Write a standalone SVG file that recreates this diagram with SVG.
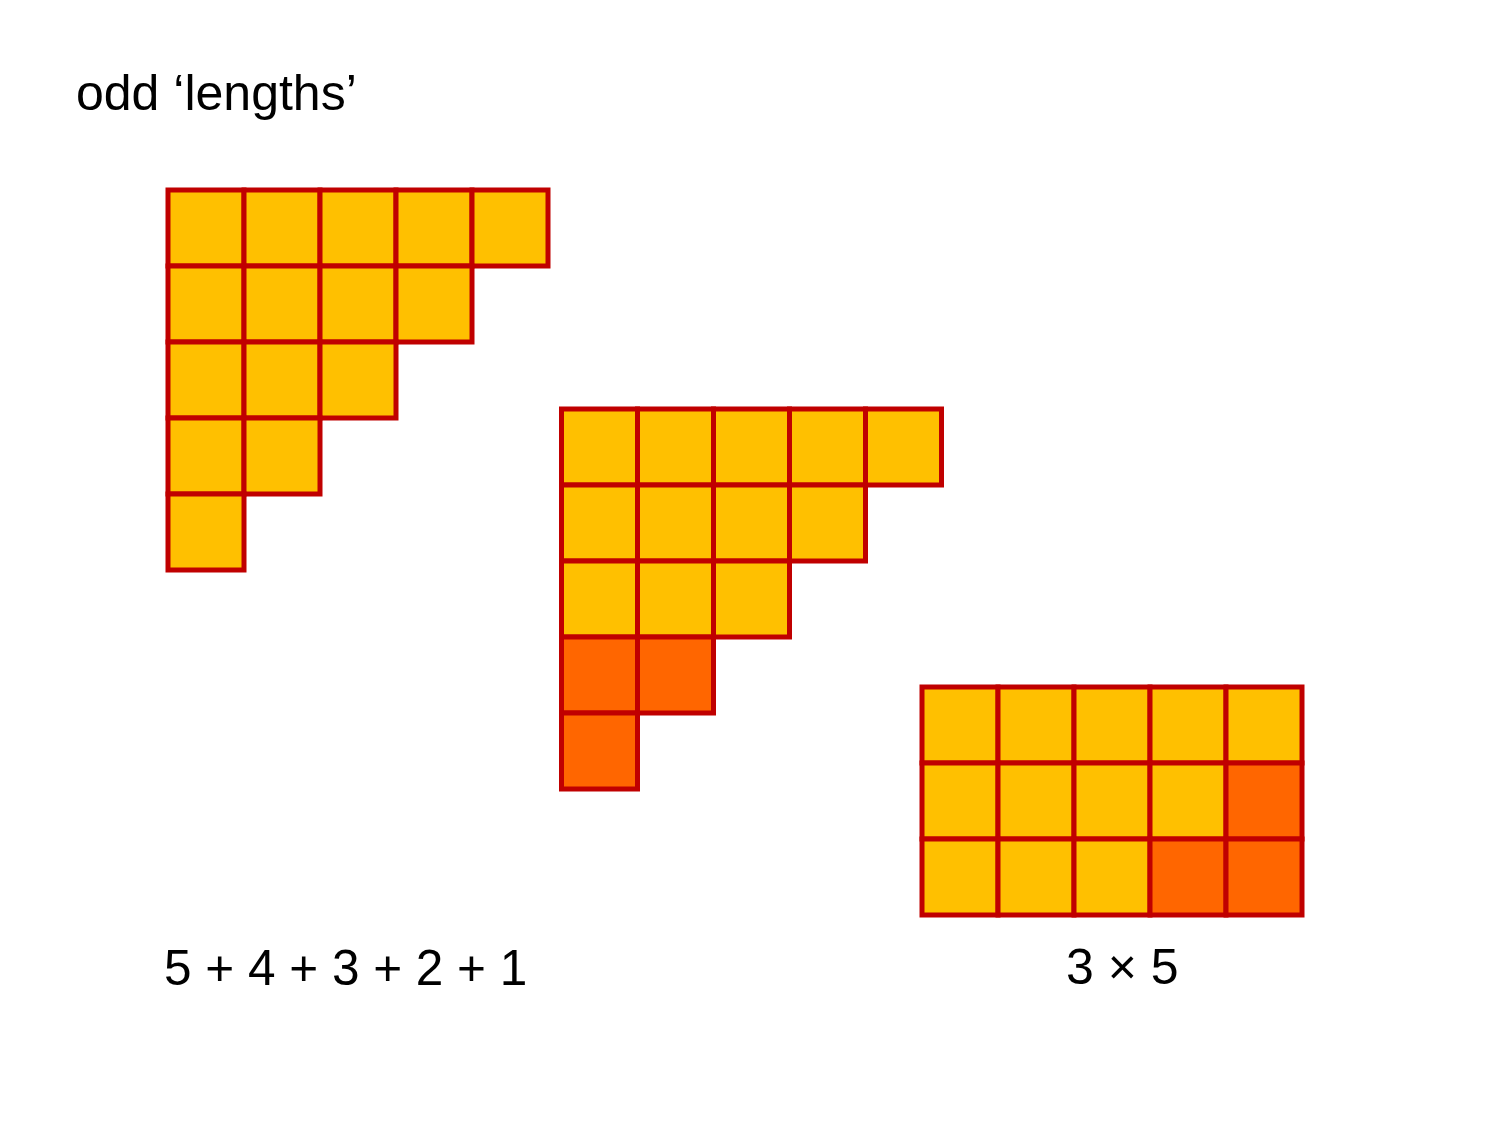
<svg xmlns="http://www.w3.org/2000/svg" width="1500" height="1125" viewBox="0 0 1500 1125">
<style>
.y{fill:#FFC000;stroke:#C00000;stroke-width:5}
.o{fill:#FF6600;stroke:#C00000;stroke-width:5}
.t{font-family:"Liberation Sans",Arial,sans-serif;fill:#000}
</style>
<rect width="1500" height="1125" fill="#fff"/>
<text class="t" x="76" y="110" font-size="50">odd ‘lengths’</text>
<g id="staircase1">
<rect class="y" x="168" y="190" width="76" height="76"/>
<rect class="y" x="244" y="190" width="76" height="76"/>
<rect class="y" x="320" y="190" width="76" height="76"/>
<rect class="y" x="396" y="190" width="76" height="76"/>
<rect class="y" x="472" y="190" width="76" height="76"/>
<rect class="y" x="168" y="266" width="76" height="76"/>
<rect class="y" x="244" y="266" width="76" height="76"/>
<rect class="y" x="320" y="266" width="76" height="76"/>
<rect class="y" x="396" y="266" width="76" height="76"/>
<rect class="y" x="168" y="342" width="76" height="76"/>
<rect class="y" x="244" y="342" width="76" height="76"/>
<rect class="y" x="320" y="342" width="76" height="76"/>
<rect class="y" x="168" y="418" width="76" height="76"/>
<rect class="y" x="244" y="418" width="76" height="76"/>
<rect class="y" x="168" y="494" width="76" height="76"/>
</g>
<g id="staircase2">
<rect class="y" x="561.5" y="409" width="76" height="76"/>
<rect class="y" x="637.5" y="409" width="76" height="76"/>
<rect class="y" x="713.5" y="409" width="76" height="76"/>
<rect class="y" x="789.5" y="409" width="76" height="76"/>
<rect class="y" x="865.5" y="409" width="76" height="76"/>
<rect class="y" x="561.5" y="485" width="76" height="76"/>
<rect class="y" x="637.5" y="485" width="76" height="76"/>
<rect class="y" x="713.5" y="485" width="76" height="76"/>
<rect class="y" x="789.5" y="485" width="76" height="76"/>
<rect class="y" x="561.5" y="561" width="76" height="76"/>
<rect class="y" x="637.5" y="561" width="76" height="76"/>
<rect class="y" x="713.5" y="561" width="76" height="76"/>
<rect class="o" x="561.5" y="637" width="76" height="76"/>
<rect class="o" x="637.5" y="637" width="76" height="76"/>
<rect class="o" x="561.5" y="713" width="76" height="76"/>
</g>
<g id="rectangle">
<rect class="y" x="922" y="687" width="76" height="76"/>
<rect class="y" x="998" y="687" width="76" height="76"/>
<rect class="y" x="1074" y="687" width="76" height="76"/>
<rect class="y" x="1150" y="687" width="76" height="76"/>
<rect class="y" x="1226" y="687" width="76" height="76"/>
<rect class="y" x="922" y="763" width="76" height="76"/>
<rect class="y" x="998" y="763" width="76" height="76"/>
<rect class="y" x="1074" y="763" width="76" height="76"/>
<rect class="y" x="1150" y="763" width="76" height="76"/>
<rect class="o" x="1226" y="763" width="76" height="76"/>
<rect class="y" x="922" y="839" width="76" height="76"/>
<rect class="y" x="998" y="839" width="76" height="76"/>
<rect class="y" x="1074" y="839" width="76" height="76"/>
<rect class="o" x="1150" y="839" width="76" height="76"/>
<rect class="o" x="1226" y="839" width="76" height="76"/>
</g>
<text class="t" x="164" y="985" font-size="49.5">5 + 4 + 3 + 2 + 1</text>
<text class="t" x="1066" y="984" font-size="50">3 × 5</text>
</svg>
